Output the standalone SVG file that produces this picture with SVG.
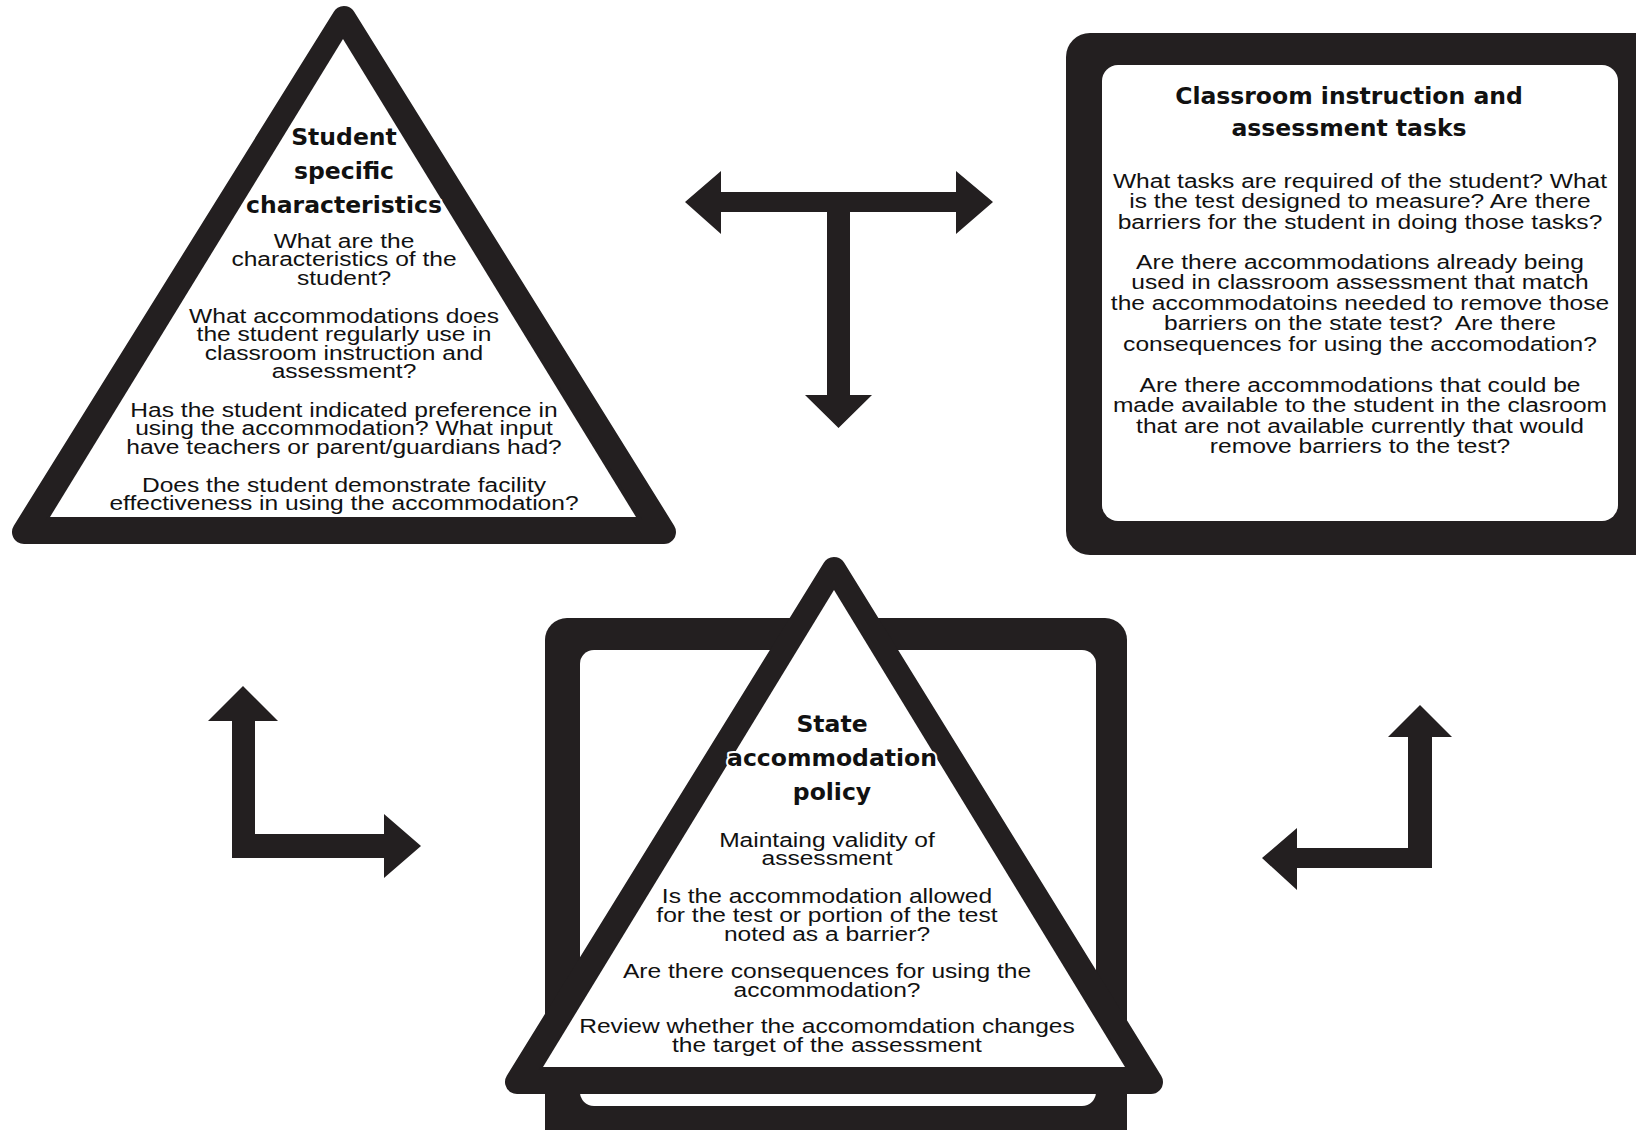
<svg xmlns="http://www.w3.org/2000/svg" width="1636" height="1130" viewBox="0 0 1636 1130">
<style>
.dk{fill:#231f20}
.wt{fill:#fff}
.rt{stroke:#231f20;stroke-width:24;stroke-linejoin:round}
.title{font-family:"DejaVu Sans","Liberation Sans",sans-serif;font-weight:bold;font-size:23.5px;text-anchor:middle;fill:#111;stroke:#fff;stroke-width:4;paint-order:stroke;stroke-linejoin:round}
.body{font-family:"Liberation Sans",Arial,sans-serif;font-size:21px;text-anchor:middle;fill:#111}
.arrow{fill:#231f20}
</style>
<rect width="1636" height="1130" fill="#fff"/>

<g id="classroom">
<rect x="1066" y="33" width="600" height="522" rx="24" class="dk"/>
<rect x="1102" y="65" width="516" height="456" rx="16" class="wt"/>
<text class="title" x="1349" y="104">Classroom instruction and</text>
<text class="title" x="1349" y="136">assessment tasks</text>
<g class="body" transform="matrix(1.17 0 0 1 -231.2 0)">
<text x="1360" y="188">What tasks are required of the student? What</text>
<text x="1360" y="208.5">is the test designed to measure? Are there</text>
<text x="1360" y="229">barriers for the student in doing those tasks?</text>
<text x="1360" y="269">Are there accommodations already being</text>
<text x="1360" y="289.5">used in classroom assessment that match</text>
<text x="1360" y="310">the accommodatoins needed to remove those</text>
<text x="1360" y="330.5" style="white-space:pre">barriers on the state test?  Are there</text>
<text x="1360" y="351">consequences for using the accomodation?</text>
<text x="1360" y="392">Are there accommodations that could be</text>
<text x="1360" y="412.5">made available to the student in the clasroom</text>
<text x="1360" y="433">that are not available currently that would</text>
<text x="1360" y="453.5">remove barriers to the test?</text>
</g>
</g>

<g id="student">
<polygon class="dk rt" points="344,18 24,532 664,532"/>
<polygon class="wt" points="343,39 50,517 636,517"/>
<text class="title" x="344" y="144.5">Student</text>
<text class="title" x="344" y="178.5">specific</text>
<text class="title" x="344" y="212.5">characteristics</text>
<g class="body" transform="matrix(1.17 0 0 1 -58.48 0)">
<text x="344" y="248">What are the</text>
<text x="344" y="266.3">characteristics of the</text>
<text x="344" y="284.6">student?</text>
<text x="344" y="323">What accommodations does</text>
<text x="344" y="341.3">the student regularly use in</text>
<text x="344" y="359.6">classroom instruction and</text>
<text x="344" y="377.9">assessment?</text>
<text x="344" y="417">Has the student indicated preference in</text>
<text x="344" y="435.3">using the accommodation? What input</text>
<text x="344" y="453.6">have teachers or parent/guardians had?</text>
<text x="344" y="492">Does the student demonstrate facility</text>
<text x="344" y="510.3">effectiveness in using the accommodation?</text>
</g>
</g>

<g id="state">
<rect x="545" y="618" width="582" height="560" rx="22" class="dk"/>
<rect x="580" y="650" width="516" height="456" rx="14" class="wt"/>
<polygon class="dk rt" points="834,569 517,1082 1151,1082"/>
<polygon class="wt" points="834,590 543,1067 1125,1067"/>
<text class="title" x="832" y="732">State</text>
<text class="title" x="832" y="766">accommodation</text>
<text class="title" x="832" y="800">policy</text>
<g class="body" transform="matrix(1.17 0 0 1 -140.59 0)">
<text x="827" y="846.7">Maintaing validity of</text>
<text x="827" y="865.5">assessment</text>
<text x="827" y="903">Is the accommodation allowed</text>
<text x="827" y="922">for the test or portion of the test</text>
<text x="827" y="940.8">noted as a barrier?</text>
<text x="827" y="978.4">Are there consequences for using the</text>
<text x="827" y="997">accommodation?</text>
<text x="827" y="1033">Review whether the accomomdation changes</text>
<text x="827" y="1052">the target of the assessment</text>
</g>
</g>

<g id="connectors">
<path class="arrow" d="M685,202 L721,171 L721,192 L956,192 L956,171 L993,202 L956,234 L956,212 L850,212 L850,395 L872,395 L838.5,428 L805,395 L827,395 L827,212 L721,212 L721,234 Z"/>
<path class="arrow" d="M243,686 L278,721 L255,721 L255,834 L384,834 L384,814 L421,846 L384,878 L384,858 L232,858 L232,721 L208,721 Z"/>
<path class="arrow" d="M1420,705 L1452,737 L1432,737 L1432,868 L1297,868 L1297,890 L1262,858 L1297,828 L1297,848 L1408,848 L1408,737 L1388,737 Z"/>
</g>
</svg>
